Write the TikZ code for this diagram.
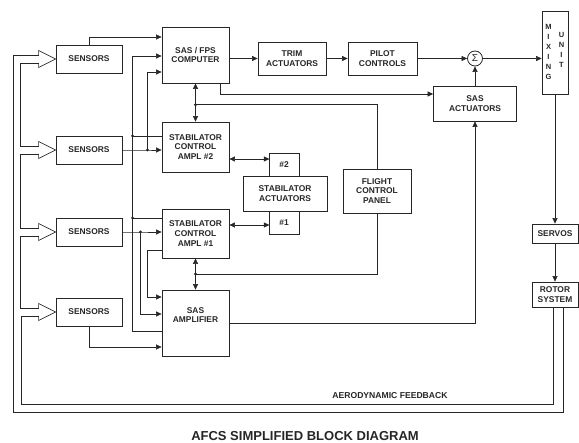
\documentclass[tikz,border=0pt]{standalone}
\usepackage{fontspec}
\setmainfont{Liberation Sans}
\usetikzlibrary{arrows.meta,calc}

\begin{document}
\begin{tikzpicture}[x=1pt,y=-1pt,color=black!85,
  blk/.style={draw, line width=0.8pt, align=center, inner sep=1pt,
    font=\fontsize{8.4}{9.6}\selectfont\bfseries},
  sensbox/.style={blk, minimum width=66pt, minimum height=28pt},
  ln/.style={line width=0.6pt},
  arr/.style={ln, -{Triangle[length=5.5pt,width=5pt]}},
  dbl/.style={ln, {Triangle[length=5.5pt,width=5pt]}-{Triangle[length=5.5pt,width=5pt]}},
  fb/.style={line width=0.7pt, line join=miter},
  lett/.style={align=center, inner sep=0pt, font=\fontsize{7.5}{10}\selectfont\bfseries}]
\useasboundingbox (0,0) rectangle (579,443);

  % Define the blocks
  \node[sensbox] (sens1) at (89,59) {SENSORS};
  \node[sensbox] (sens2) at (89,150) {SENSORS};
  \node[sensbox] (sens3) at (89,232) {SENSORS};
  \node[sensbox] (sens4) at (89,312) {SENSORS};

  \node[blk, minimum width=67pt, minimum height=56pt] (comp) at (195.5,55) {SAS / FPS\\COMPUTER};
  \node[blk, minimum width=67pt, minimum height=50pt] (samp2) at (195.5,147) {STABILATOR\\CONTROL\\AMPL \#2};
  \node[blk, minimum width=67pt, minimum height=49pt] (samp1) at (195.5,233.5) {STABILATOR\\CONTROL\\AMPL \#1};
  \node[blk, minimum width=67pt, minimum height=66pt] (sasamp) at (195.5,323) {SAS\\AMPLIFIER\\[6pt]};

  \node[blk, minimum width=68pt, minimum height=33pt] (trim) at (292,58.5) {TRIM\\ACTUATORS};
  \node[blk, minimum width=69pt, minimum height=33pt] (pilot) at (382.5,58.5) {PILOT\\CONTROLS};
  \node[blk, circle, minimum size=15pt, inner sep=0pt, font=\fontsize{10}{10}\selectfont] (sum) at (475,58.5) {Σ};
  \node[blk, minimum width=83pt, minimum height=35pt] (sasact) at (475,103.5) {SAS\\ACTUATORS};

  \node[blk, minimum width=30pt, minimum height=23pt] (n2) at (284,164.5) {\#2};
  \node[blk, minimum width=84pt, minimum height=35pt] (stabact) at (285,193.5) {STABILATOR\\ACTUATORS};
  \node[blk, minimum width=30pt, minimum height=23pt] (n1) at (284,222.5) {\#1};
  \node[blk, minimum width=68pt, minimum height=44pt] (fcp) at (377,191) {FLIGHT\\CONTROL\\PANEL};

  \node[blk, minimum width=26pt, minimum height=83pt] (mix) at (555,52.5) {};
  \node[lett] (mixL) at ([xshift=-6.5pt,yshift=1pt]mix.center) {M\\I\\X\\I\\N\\G};
  \node[lett] (mixR) at ([xshift=6.5pt,yshift=3pt]mix.center) {U\\N\\I\\T};
  \node[blk, minimum width=46pt, minimum height=19pt] (servos) at (555,233.5) {SERVOS};
  \node[blk, minimum width=46pt, minimum height=25pt] (rotor) at (555,294.5) {ROTOR\\SYSTEM};

  % Sensor lines into computer and amplifiers
  \draw[arr] (sens1.north) |- ([yshift=18pt]comp.west);
  \draw[arr] ([yshift=-8pt]sasamp.west) -- ++(-29pt,0) |- ([yshift=-1pt]comp.west);
  \draw[ln] ([yshift=11pt]samp2.west) -- ++(-29pt,0) coordinate (j1);
  \draw[ln] ([yshift=15.5pt]samp1.west) -- ++(-29pt,0) coordinate (j2);
  \draw[arr] (sens2.east) -- ++(25pt,0) coordinate (j3) -- (sens2.east -| samp2.west);
  \draw[arr] (j3) |- ([yshift=-17pt]comp.west);
  \draw[arr] (sens3.east) -- ++(18pt,0) coordinate (j4) -- (sens3.east -| samp1.west);
  \draw[arr] (j4) |- ([yshift=9pt]sasamp.west);
  \draw[arr] ([yshift=-16.5pt]samp1.west) -- ++(-14pt,0) |- ([yshift=26pt]sasamp.west);
  \draw[arr] (sens4.south) |- ([yshift=-24pt]sasamp.west);

  % Links between the amplifiers and the panel
  \draw[dbl] (comp.south) -- (samp2.north);
  \draw[ln] ($(comp.south)!0.56!(samp2.north)$) coordinate (j5) -| (fcp.north);
  \draw[dbl] (samp1.south) -- (sasamp.north);
  \draw[ln] (fcp.south) |- ($(samp1.south)!0.5!(sasamp.north)$) coordinate (j6);
  \draw[dbl] ([yshift=-12pt]samp2.east) -- ++(40pt,0);
  \draw[dbl] ([yshift=8.5pt]samp1.east) -- ++(40pt,0);

  % Forward path
  \draw[arr] ([xshift=24.5pt]comp.south) |- ([yshift=9.5pt]sasact.west);
  \draw[arr] (trim.west -| comp.east) -- (trim.west);
  \draw[arr] (trim.east) -- (pilot.west);
  \draw[arr] (pilot.east) -- (sum.west);
  \draw[arr] (sum.east) -- (sum.east -| mix.west);
  \draw[arr] (sasact.north) -- (sum.south);
  \draw[arr] (sasamp.east) -| (sasact.south);
  \draw[arr] (mix.south) -- (servos.north);
  \draw[arr] (servos.south) -- (rotor.north);

  % Aerodynamic feedback
  \coordinate (fbo) at (13,412);
  \coordinate (fbi) at (21,404);
  \draw[fb] ([xshift=8pt]rotor.south) |- (fbo) |- ([shift={(-17pt,4pt)}]sens1.west);
  \draw[fb] ([xshift=-2pt]rotor.south) |- (fbi) |- ([shift={(-17pt,-4pt)}]sens4.west);
  \foreach \a/\b in {sens1/sens2, sens2/sens3, sens3/sens4} {
    \draw[fb] ([shift={(-17pt,-4pt)}]\a.west) -- ++(-18pt,0) |- ([shift={(-17pt,4pt)}]\b.west);
  }
  \foreach \s in {sens1, sens2, sens3, sens4} {
    \draw[fb] ([shift={(-17pt,4pt)}]\s.west) -- ++(0,4.5pt) -- (\s.west)
      -- ([shift={(-17pt,-8.5pt)}]\s.west) -- ++(0,4.5pt);
  }
  \node[font=\fontsize{8.6}{10}\selectfont\bfseries] (aero) at (390,396) {AERODYNAMIC FEEDBACK};

  % Draw the junctions
  \foreach \coor in {j1, j2, j3, j4, j5, j6} {
    \fill (\coor) circle (1.6pt);
  }

\node[font=\fontsize{13}{15}\selectfont\bfseries] (title) at (305,436) {AFCS SIMPLIFIED BLOCK DIAGRAM};
\end{tikzpicture}
\end{document}
